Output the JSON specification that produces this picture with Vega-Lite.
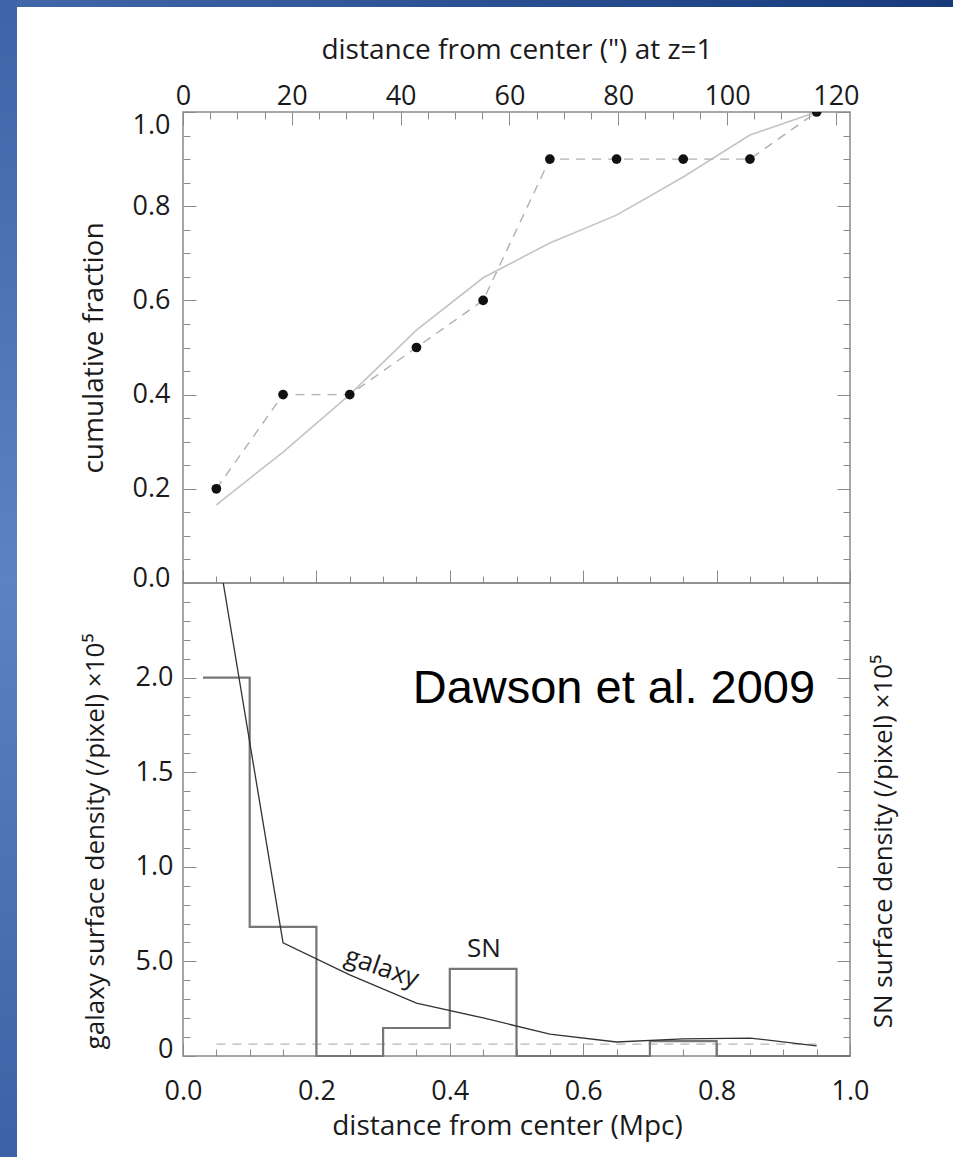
{
  "$schema": "https://vega.github.io/schema/vega-lite/v6.json",
  "background": "white",
  "padding": 0,
  "autosize": {"type": "pad"},
  "config": {
    "font": "Open Sans",
    "view": {"stroke": null},
    "axis": {
      "labelFont": "Open Sans",
      "labelFontSize": 27,
      "labelColor": "#1a1a1a",
      "titleFont": "Open Sans",
      "titleFontSize": 28,
      "titleFontWeight": "normal",
      "titleColor": "#1a1a1a",
      "tickColor": "#8a8a8a",
      "tickWidth": 1,
      "domain": false,
      "grid": false,
      "labelOverlap": false,
      "labelFlush": false,
      "labelBound": false
    }
  },
  "datasets": {
    "sn_cumulative": [
      {"r": 0.05, "fraction": 0.2},
      {"r": 0.15, "fraction": 0.4},
      {"r": 0.25, "fraction": 0.4},
      {"r": 0.35, "fraction": 0.5},
      {"r": 0.45, "fraction": 0.6},
      {"r": 0.55, "fraction": 0.9},
      {"r": 0.65, "fraction": 0.9},
      {"r": 0.75, "fraction": 0.9},
      {"r": 0.85, "fraction": 0.9},
      {"r": 0.95, "fraction": 1.0}
    ],
    "galaxy_cumulative": [
      {"r": 0.05, "fraction": 0.166},
      {"r": 0.15, "fraction": 0.278},
      {"r": 0.25, "fraction": 0.4},
      {"r": 0.35, "fraction": 0.537},
      {"r": 0.45, "fraction": 0.648},
      {"r": 0.55, "fraction": 0.722},
      {"r": 0.65, "fraction": 0.781},
      {"r": 0.75, "fraction": 0.862},
      {"r": 0.85, "fraction": 0.951},
      {"r": 0.95, "fraction": 1.0}
    ],
    "galaxy_density": [
      {"r": 0.05, "density": 2.72},
      {"r": 0.15, "density": 0.598},
      {"r": 0.25, "density": 0.429},
      {"r": 0.35, "density": 0.28},
      {"r": 0.45, "density": 0.201},
      {"r": 0.55, "density": 0.116},
      {"r": 0.65, "density": 0.074},
      {"r": 0.75, "density": 0.09},
      {"r": 0.85, "density": 0.095},
      {"r": 0.95, "density": 0.053}
    ],
    "sn_density": [
      {"r": 0.03, "density": 2.0},
      {"r": 0.1, "density": 0.683},
      {"r": 0.2, "density": 0.0},
      {"r": 0.3, "density": 0.148},
      {"r": 0.4, "density": 0.46},
      {"r": 0.5, "density": 0.0},
      {"r": 0.6, "density": 0.0},
      {"r": 0.7, "density": 0.079},
      {"r": 0.8, "density": 0.0},
      {"r": 0.9, "density": 0.0},
      {"r": 1.0, "density": 0.0}
    ],
    "sn_background": [
      {"r_start": 0.05, "r_end": 0.95, "density": 0.063}
    ],
    "curve_labels": [
      {"label": "galaxy", "r": 0.298, "density": 0.466, "italic": true},
      {"label": "SN", "r": 0.451, "density": 0.566, "italic": false}
    ],
    "citation": [
      {"label": "Dawson et al. 2009", "r": 0.646, "density": 1.868}
    ]
  },
  "hconcat": [
    {
      "width": 17,
      "height": 1157,
      "data": {"values": []},
      "mark": "point",
      "view": {
        "stroke": null,
        "fill": {
          "gradient": "linear", "x1": 0, "y1": 0, "x2": 0, "y2": 1,
          "stops": [
            {"offset": 0, "color": "#3e63a6"},
            {"offset": 0.5, "color": "#5c82c4"},
            {"offset": 1, "color": "#3c61a4"}
          ]
        }
      }
    },
    {
      "vconcat": [
        {
          "width": 936,
          "height": 7,
          "data": {"values": []},
          "mark": "point",
          "view": {
            "stroke": null,
            "fill": {
              "gradient": "linear", "x1": 0, "y1": 0, "x2": 1, "y2": 0,
              "stops": [
                {"offset": 0, "color": "#4167a9"},
                {"offset": 1, "color": "#163a7a"}
              ]
            }
          }
        },
        {
          "hconcat": [
            {
              "width": 1,
              "height": 1,
              "data": {"values": []},
              "mark": "point",
              "view": {"stroke": null}
            },
            {
              "vconcat": [
                {
                  "width": 667,
                  "height": 471,
                  "view": {"stroke": "#8a8a8a", "strokeWidth": 1.5},
                  "resolve": {"axis": {"x": "independent", "y": "independent"}},
                  "layer": [
                    {
                      "data": {"name": "galaxy_cumulative"},
                      "mark": {"type": "line", "color": "#c4c4c4", "strokeWidth": 1.6},
                      "encoding": {
                        "x": {
                          "field": "r", "type": "quantitative",
                          "scale": {"domain": [0, 1], "nice": false, "zero": false},
                          "axis": {
                            "orient": "bottom",
                            "values": [0,0.05,0.1,0.15,0.2,0.25,0.3,0.35,0.4,0.45,0.5,0.55,0.6,0.65,0.7,0.75,0.8,0.85,0.9,0.95,1],
                            "labels": false,
                            "title": null,
                            "tickSize": {"condition": {"test": "abs(datum.value*5 - round(datum.value*5)) < 0.001", "value": -13}, "value": -7}
                          }
                        },
                        "y": {
                          "field": "fraction", "type": "quantitative",
                          "scale": {"domain": [0, 1], "nice": false},
                          "axis": {
                            "orient": "left",
                            "values": [0,0.05,0.1,0.15,0.2,0.25,0.3,0.35,0.4,0.45,0.5,0.55,0.6,0.65,0.7,0.75,0.8,0.85,0.9,0.95,1],
                            "labelExpr": "abs(datum.value*5 - round(datum.value*5)) < 0.001 ? format(datum.value, '.1f') : ''",
                            "labelPadding": 26,
                            "labelBaseline": {"condition": {"test": "datum.value > 0.99", "value": "top"}, "value": "middle"},
                            "labelOffset": {"condition": {"test": "datum.value < 0.01", "value": -5}, "value": 0},
                            "tickSize": {"condition": {"test": "abs(datum.value*5 - round(datum.value*5)) < 0.001", "value": -13}, "value": -7},
                            "title": "cumulative fraction",
                            "titlePadding": 24
                          }
                        }
                      }
                    },
                    {
                      "data": {"name": "sn_cumulative"},
                      "mark": {"type": "line", "color": "#b0b0b0", "strokeWidth": 1.4, "strokeDash": [9, 7]},
                      "encoding": {
                        "x": {
                          "field": "r", "type": "quantitative",
                          "axis": {
                            "orient": "top",
                            "values": [0,0.04078,0.08157,0.12235,0.16313,0.20392,0.2447,0.28548,0.32626,0.36705,0.40783,0.44861,0.4894,0.53018,0.57096,0.61175,0.65253,0.69331,0.73409,0.77488,0.81566,0.85644,0.89723,0.93801,0.97879],
                            "labelExpr": "round(datum.value*122.6) % 20 === 0 ? format(round(datum.value*122.6), 'd') : ''",
                            "labelPadding": 15,
                            "tickSize": {"condition": {"test": "round(datum.value*122.6) % 20 === 0", "value": -13}, "value": -7},
                            "title": "distance from center (\") at z=1",
                            "titlePadding": 12
                          }
                        },
                        "y": {
                          "field": "fraction", "type": "quantitative",
                          "axis": {
                            "orient": "right",
                            "values": [0,0.05,0.1,0.15,0.2,0.25,0.3,0.35,0.4,0.45,0.5,0.55,0.6,0.65,0.7,0.75,0.8,0.85,0.9,0.95,1],
                            "labels": false,
                            "title": null,
                            "tickSize": {"condition": {"test": "abs(datum.value*5 - round(datum.value*5)) < 0.001", "value": -13}, "value": -7}
                          }
                        }
                      }
                    },
                    {
                      "data": {"name": "sn_cumulative"},
                      "mark": {"type": "point", "filled": true, "color": "#111111", "size": 95, "opacity": 1, "clip": true},
                      "encoding": {
                        "x": {"field": "r", "type": "quantitative", "axis": null},
                        "y": {"field": "fraction", "type": "quantitative", "axis": null}
                      }
                    }
                  ]
                },
                {
                  "width": 667,
                  "height": 473,
                  "view": {"stroke": "#8a8a8a", "strokeWidth": 1.5},
                  "resolve": {"axis": {"x": "independent", "y": "independent"}},
                  "layer": [
                    {
                      "data": {"name": "sn_background"},
                      "mark": {"type": "rule", "color": "#b8b8b8", "strokeWidth": 1.4, "strokeDash": [9, 7]},
                      "encoding": {
                        "x": {"field": "r_start", "type": "quantitative", "axis": null},
                        "x2": {"field": "r_end"},
                        "y": {"field": "density", "type": "quantitative", "axis": null}
                      }
                    },
                    {
                      "data": {"name": "sn_density"},
                      "mark": {"type": "line", "interpolate": "step-after", "color": "#767676", "strokeWidth": 2.2},
                      "encoding": {
                        "x": {"field": "r", "type": "quantitative", "axis": null},
                        "y": {
                          "field": "density", "type": "quantitative",
                          "axis": {
                            "orient": "right",
                            "values": [0,0.1,0.2,0.3,0.4,0.5,0.6,0.7,0.8,0.9,1.0,1.1,1.2,1.3,1.4,1.5,1.6,1.7,1.8,1.9,2.0,2.1,2.2,2.3,2.4],
                            "labels": false,
                            "tickSize": {"condition": {"test": "abs(datum.value*2 - round(datum.value*2)) < 0.001", "value": -13}, "value": -7},
                            "title": "SN surface density (/pixel) ×10⁵",
                            "titleFontSize": 26,
                            "titleAngle": 270,
                            "titlePadding": 46,
                            "titleY": 258
                          }
                        }
                      }
                    },
                    {
                      "data": {"name": "galaxy_density"},
                      "mark": {"type": "line", "color": "#333333", "strokeWidth": 1.3, "clip": true},
                      "encoding": {
                        "x": {
                          "field": "r", "type": "quantitative",
                          "scale": {"domain": [0, 1], "nice": false, "zero": false},
                          "axis": {
                            "orient": "bottom",
                            "values": [0,0.05,0.1,0.15,0.2,0.25,0.3,0.35,0.4,0.45,0.5,0.55,0.6,0.65,0.7,0.75,0.8,0.85,0.9,0.95,1],
                            "labelExpr": "abs(datum.value*5 - round(datum.value*5)) < 0.001 ? format(datum.value, '.1f') : ''",
                            "labelPadding": 35,
                            "tickSize": {"condition": {"test": "abs(datum.value*5 - round(datum.value*5)) < 0.001", "value": -13}, "value": -7},
                            "title": "distance from center (Mpc)",
                            "titlePadding": 2,
                            "titleX": 324
                          }
                        },
                        "y": {
                          "field": "density", "type": "quantitative",
                          "scale": {"domain": [0, 2.5], "nice": false},
                          "axis": {
                            "orient": "left",
                            "values": [0,0.1,0.2,0.3,0.4,0.5,0.6,0.7,0.8,0.9,1.0,1.1,1.2,1.3,1.4,1.5,1.6,1.7,1.8,1.9,2.0,2.1,2.2,2.3,2.4],
                            "labelExpr": "abs(datum.value*2 - round(datum.value*2)) < 0.001 ? (datum.value < 0.01 ? '0' : (abs(datum.value - 0.5) < 0.01 ? '5.0' : format(datum.value, '.1f'))) : ''",
                            "labelPadding": 23,
                            "labelBaseline": {"condition": {"test": "datum.value < 0.01", "value": "alphabetic"}, "value": "middle"},
                            "labelOffset": {"condition": {"test": "datum.value < 0.01", "value": 1}, "value": 0},
                            "tickSize": {"condition": {"test": "abs(datum.value*2 - round(datum.value*2)) < 0.001", "value": -13}, "value": -7},
                            "title": "galaxy surface density (/pixel) ×10⁵",
                            "titleFontSize": 26,
                            "titlePadding": 27,
                            "titleY": 258
                          }
                        }
                      }
                    },
                    {
                      "data": {"name": "curve_labels"},
                      "mark": {"type": "text", "fontSize": 26, "font": "Open Sans", "color": "#1a1a1a", "align": "center", "baseline": "middle"},
                      "encoding": {
                        "x": {"field": "r", "type": "quantitative", "axis": null},
                        "y": {"field": "density", "type": "quantitative", "axis": null},
                        "text": {"field": "label"},
                        "angle": {"condition": {"test": "datum.italic", "value": 19}, "value": 0},
                        "fontStyle": {"condition": {"test": "datum.italic", "value": "italic"}, "value": "normal"}
                      }
                    },
                    {
                      "data": {"name": "citation"},
                      "mark": {"type": "text", "fontSize": 47, "font": "Liberation Sans", "color": "#000000", "align": "center", "baseline": "alphabetic"},
                      "encoding": {
                        "x": {"field": "r", "type": "quantitative", "axis": null},
                        "y": {"field": "density", "type": "quantitative", "axis": null},
                        "text": {"field": "label"}
                      }
                    }
                  ]
                }
              ],
              "spacing": 0,
              "bounds": "flush"
            }
          ],
          "spacing": 165,
          "bounds": "flush"
        }
      ],
      "spacing": 105,
      "bounds": "flush"
    }
  ],
  "spacing": 0,
  "bounds": "flush"
}
